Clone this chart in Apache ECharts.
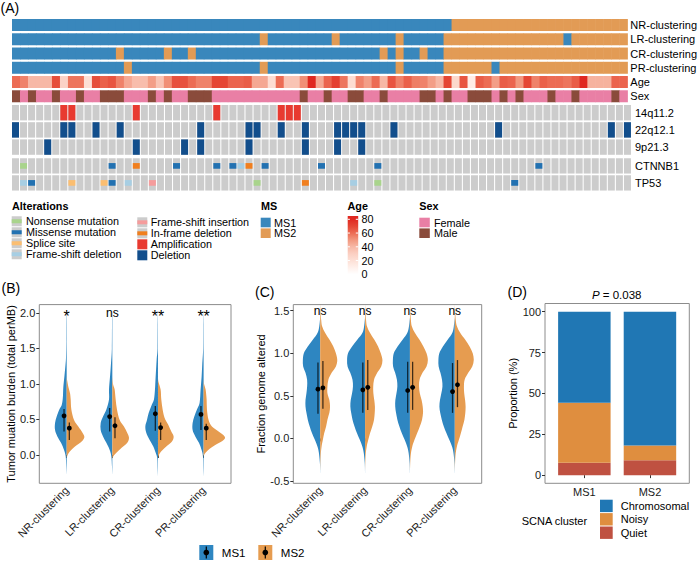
<!DOCTYPE html>
<html>
<head>
<meta charset="utf-8">
<script src="https://cdn.jsdelivr.net/npm/echarts@6.0.0/dist/echarts.min.js"></script>
<style>
html,body{margin:0;padding:0;background:#ffffff;}
#chart{width:700px;height:567px;}
</style>
</head>
<body>
<div id="chart"></div>
<script>
// ================= DATA =================
const samples = [];
for (let i = 1; i <= 77; i++) samples.push('P' + i);

const annoRows = ['NR-clustering', 'LR-clustering', 'CR-clustering', 'PR-clustering', 'Age', 'Sex'];
const msNR = [1,1,1,1,1,1,1,1,1,1, 1,1,1,1,1,1,1,1,1,1, 1,1,1,1,1,1,1,1,1,1, 1,1,1,1,1,1,1,1,1,1, 1,1,1,1,1,1,1,1,1,1, 1,1,1,1,1,2,2,2,2,2, 2,2,2,2,2,2,2,2,2,2, 2,2,2,2,2,2,2];
const msLR = [1,1,1,1,1,1,1,1,1,1, 1,1,1,1,1,1,1,1,1,1, 1,1,1,1,1,1,1,1,1,1, 1,2,1,1,1,1,1,1,1,1, 2,1,1,1,1,1,1,1,2,1, 1,1,1,1,2,2,2,2,2,2, 2,2,2,2,2,2,2,2,2,1, 2,2,2,2,2,2,2];
const msCR = [1,1,1,1,1,1,1,1,1,1, 1,1,1,2,1,1,1,1,1,2, 1,1,2,1,1,1,1,1,1,1, 1,1,1,1,1,1,1,1,1,1, 1,1,1,1,1,1,2,1,2,1, 1,2,1,1,2,2,2,2,2,2, 2,2,2,2,2,2,2,2,2,2, 2,2,2,2,2,2,2];
const msPR = [1,1,1,1,1,1,1,1,1,1, 1,1,1,1,2,1,1,1,1,1, 1,1,1,1,1,1,1,1,1,1, 1,2,1,1,1,1,1,1,1,1, 1,1,1,1,1,1,1,1,2,1, 1,1,1,1,2,2,2,2,2,2, 1,2,2,2,2,2,2,2,2,2, 2,2,2,2,2,2,2];
const ageValues = [60,55,40,40,40,68,28,58,58,20, 68,63,66,55,45,38,38,48,35,52, 67,67,60,55,55,70,70,62,62,64, 45,45,22,60,35,35,52,80,45,62, 72,58,22,55,48,60,40,66,55,63, 56,55,48,40,70,25,66,12,64,60, 48,64,62,50,70,55,63,60,60,58, 64,80,42,42,42,62,62];
const sexValues = ['M','F','M','F','F','M','F','F','M','F', 'F','M','M','M','F','F','F','M','F','M', 'F','F','M','M','M','F','F','F','F','F', 'F','F','F','F','F','F','M','F','F','M', 'F','F','M','M','F','F','M','F','F','F', 'F','M','M','F','M','F','F','M','M','M', 'F','M','F','M','F','F','F','M','F','F', 'M','F','F','F','F','M','F'];

const cnvRows = ['14q11.2', '22q12.1', '9p21.3'];
const amp14q11 = [6,7,15,25,33,34,35];
const del22q12 = [0,6,7,10,13,23,29,30,33,36,40,41,42,43,47,60,74,76];
const del9p21 = [4,15,21,23,29,36,40,43];

const mutRows = ['CTNNB1', 'TP53'];
const mutCTNNB1 = [[1,'Nonsense mutation'],[12,'Missense mutation'],[15,'In-frame deletion'],[20,'Missense mutation'],[25,'Missense mutation'],[27,'Missense mutation'],[28,'Frame-shift deletion'],[29,'In-frame deletion'],[31,'Missense mutation'],[38,'Missense mutation'],[45,'Missense mutation'],[65,'Missense mutation']];
const mutTP53 = [[1,'Frame-shift deletion'],[2,'Missense mutation'],[7,'Splice site'],[11,'Splice site'],[12,'Missense mutation'],[14,'Frame-shift deletion'],[17,'Frame-shift insertion'],[30,'Nonsense mutation'],[36,'In-frame deletion'],[42,'Frame-shift deletion'],[45,'Nonsense mutation'],[62,'Missense mutation']];

const alterTypes = ['Nonsense mutation','Missense mutation','Splice site','Frame-shift deletion','Frame-shift insertion','In-frame deletion','Amplification','Deletion'];
const msLevels = ['MS1', 'MS2'];
const sexLevels = ['Female', 'Male'];
const ageTicks = [0, 20, 40, 60, 80];

// Panel B: tumor mutation burden, split violins ([value, half-width as fraction of category spacing])
const clusterCats = ['NR-clustering', 'LR-clustering', 'CR-clustering', 'PR-clustering'];
const tmbMS1_NR = [[2.05,0],[1.9,0.007],[1.6,0.008],[1.37,0.015],[1.25,0.029],[1.1,0.051],[0.96,0.073],[0.85,0.08],[0.78,0.088],[0.7,0.11],[0.64,0.161],[0.54,0.219],[0.45,0.255],[0.35,0.255],[0.26,0.204],[0.17,0.124],[0.07,0.058],[-0.02,0.022],[-0.15,0.01],[-0.28,0]];
const tmbMS1_LR = [[2.05,0],[1.85,0.007],[1.5,0.01],[1.29,0.029],[1.1,0.051],[0.92,0.073],[0.78,0.073],[0.64,0.131],[0.54,0.204],[0.45,0.255],[0.35,0.255],[0.26,0.204],[0.17,0.131],[0.07,0.058],[-0.02,0.022],[-0.16,0.008],[-0.28,0]];
const tmbMS1_CR = [[2.05,0],[1.8,0.007],[1.5,0.01],[1.34,0.029],[1.1,0.051],[0.92,0.066],[0.78,0.088],[0.69,0.146],[0.59,0.204],[0.49,0.241],[0.40,0.277],[0.31,0.255],[0.21,0.182],[0.12,0.102],[0.02,0.044],[-0.05,0.015],[-0.2,0.007],[-0.3,0]];
const tmbMS1_PR = [[2.05,0],[1.8,0.007],[1.5,0.01],[1.29,0.029],[1.1,0.044],[0.92,0.066],[0.73,0.088],[0.64,0.146],[0.54,0.204],[0.45,0.241],[0.35,0.241],[0.26,0.182],[0.17,0.102],[0.07,0.044],[-0.02,0.015],[-0.2,0.007],[-0.3,0]];
const tmbMS2_NR = [[1.12,0],[1.05,0.01],[0.96,0.036],[0.87,0.073],[0.78,0.088],[0.64,0.102],[0.49,0.161],[0.40,0.255],[0.31,0.35],[0.25,0.387],[0.19,0.328],[0.12,0.182],[0.05,0.073],[0.0,0.022],[-0.04,0]];
const tmbMS2_LR = [[1.1,0],[1.0,0.015],[0.92,0.051],[0.78,0.073],[0.64,0.102],[0.49,0.161],[0.40,0.255],[0.31,0.328],[0.24,0.365],[0.17,0.328],[0.10,0.204],[0.02,0.073],[-0.02,0.022],[-0.06,0]];
const tmbMS2_CR = [[1.1,0],[1.03,0.01],[0.92,0.058],[0.78,0.073],[0.64,0.102],[0.52,0.146],[0.43,0.219],[0.33,0.292],[0.26,0.343],[0.19,0.307],[0.12,0.182],[0.05,0.073],[0.0,0.022],[-0.04,0]];
const tmbMS2_PR = [[1.08,0],[1.0,0.01],[0.92,0.044],[0.78,0.066],[0.64,0.073],[0.49,0.109],[0.40,0.182],[0.33,0.328],[0.26,0.46],[0.21,0.438],[0.14,0.255],[0.07,0.102],[0.02,0.029],[-0.02,0]];
const tmbMS1Range = [[0.55,0.33,0.645],[0.54,0.33,0.66],[0.58,0.34,0.69],[0.57,0.35,0.69]]; // [mean, low, high]
const tmbMS2Range = [[0.377,0.21,0.456],[0.41,0.235,0.53],[0.385,0.21,0.456],[0.377,0.21,0.44]];
const tmbSig = ['*', 'ns', '**', '**'];
const tmbTicks = [0, 0.5, 1, 1.5, 2];

// Panel C: fraction genome altered
const fgaMS1_NR = [[1.42,0],[1.315,0.022],[1.24,0.058],[1.16,0.161],[1.08,0.277],[1.0,0.365],[0.92,0.387],[0.845,0.38],[0.77,0.328],[0.69,0.292],[0.61,0.292],[0.53,0.307],[0.45,0.328],[0.374,0.328],[0.30,0.307],[0.22,0.277],[0.14,0.234],[0.06,0.182],[-0.02,0.117],[-0.1,0.058],[-0.17,0.029],[-0.29,0.007],[-0.41,0]];
const fgaMS1_LR = [[1.42,0],[1.315,0.022],[1.24,0.058],[1.16,0.17],[1.08,0.29],[1.0,0.38],[0.92,0.401],[0.845,0.39],[0.77,0.33],[0.69,0.28],[0.61,0.27],[0.53,0.29],[0.45,0.32],[0.374,0.328],[0.30,0.31],[0.22,0.28],[0.14,0.235],[0.06,0.18],[-0.02,0.115],[-0.1,0.058],[-0.17,0.029],[-0.29,0.007],[-0.41,0]];
const fgaMS1_CR = [[1.42,0],[1.315,0.022],[1.24,0.058],[1.16,0.16],[1.08,0.275],[1.0,0.36],[0.92,0.38],[0.845,0.375],[0.77,0.33],[0.69,0.29],[0.61,0.28],[0.53,0.3],[0.45,0.325],[0.374,0.328],[0.30,0.31],[0.22,0.28],[0.14,0.235],[0.06,0.18],[-0.02,0.115],[-0.1,0.058],[-0.17,0.029],[-0.29,0.007],[-0.41,0]];
const fgaMS1_PR = [[1.42,0],[1.315,0.022],[1.24,0.055],[1.16,0.155],[1.08,0.265],[1.0,0.345],[0.92,0.365],[0.845,0.36],[0.77,0.32],[0.69,0.285],[0.61,0.275],[0.53,0.3],[0.45,0.33],[0.374,0.343],[0.30,0.325],[0.22,0.29],[0.14,0.245],[0.06,0.185],[-0.02,0.12],[-0.1,0.058],[-0.17,0.029],[-0.29,0.007],[-0.41,0]];
const fgaMS2_NR = [[1.58,0],[1.39,0.022],[1.315,0.044],[1.24,0.109],[1.16,0.204],[1.08,0.292],[1.0,0.35],[0.92,0.38],[0.845,0.35],[0.77,0.255],[0.69,0.182],[0.61,0.161],[0.53,0.161],[0.45,0.204],[0.374,0.219],[0.30,0.204],[0.22,0.161],[0.14,0.131],[0.06,0.088],[-0.02,0.058],[-0.1,0.029],[-0.21,0.011],[-0.41,0]];
const fgaMS2_LR = [[1.58,0],[1.39,0.022],[1.315,0.044],[1.24,0.109],[1.16,0.204],[1.08,0.29],[1.0,0.35],[0.92,0.387],[0.845,0.36],[0.77,0.27],[0.69,0.2],[0.61,0.182],[0.53,0.185],[0.45,0.205],[0.374,0.219],[0.30,0.215],[0.22,0.2],[0.14,0.16],[0.06,0.11],[-0.02,0.07],[-0.1,0.035],[-0.21,0.011],[-0.41,0]];
const fgaMS2_CR = [[1.58,0],[1.39,0.022],[1.315,0.044],[1.24,0.11],[1.16,0.21],[1.08,0.3],[1.0,0.37],[0.92,0.40],[0.845,0.37],[0.77,0.28],[0.69,0.215],[0.61,0.204],[0.53,0.22],[0.45,0.26],[0.374,0.285],[0.30,0.292],[0.22,0.27],[0.14,0.22],[0.06,0.16],[-0.02,0.1],[-0.1,0.05],[-0.21,0.015],[-0.41,0]];
const fgaMS2_PR = [[1.58,0],[1.39,0.022],[1.315,0.05],[1.24,0.12],[1.16,0.23],[1.08,0.33],[1.0,0.4],[0.92,0.423],[0.845,0.39],[0.77,0.3],[0.69,0.22],[0.61,0.204],[0.53,0.21],[0.45,0.23],[0.374,0.241],[0.30,0.235],[0.22,0.215],[0.14,0.175],[0.06,0.135],[-0.02,0.09],[-0.1,0.045],[-0.21,0.014],[-0.41,0]];
const fgaMS1Range = [[0.578,0.29,0.89],[0.57,0.30,0.89],[0.563,0.30,0.90],[0.55,0.30,0.885]];
const fgaMS2Range = [[0.594,0.347,0.91],[0.60,0.335,0.92],[0.60,0.335,0.90],[0.63,0.367,0.92]];
const fgaSig = ['ns', 'ns', 'ns', 'ns'];
const fgaTicks = [-0.5, 0, 0.5, 1, 1.5];

// Panel D: SCNA cluster proportions
const scnaGroups = ['MS1', 'MS2'];
const scnaQuiet = [7.5, 9.1];
const scnaNoisy = [36.8, 9.1];
const scnaChromosomal = [55.7, 81.8];
const scnaTicks = [0, 25, 50, 75, 100];
const scnaP = '0.038';

// ================= STYLE =================
const FONT = '"Liberation Sans", Arial, Helvetica, sans-serif';
const GRAY = '#cccccc';
const MS_COLORS = ['#3987bc', '#e29b55'];
const VIOLIN_COLORS = ['#2e86c1', '#e69c50'];
const SEX_COLORS = ['#e97fa5', '#8a4b3b'];
const ALTER_COLORS = ['#a9d48c', '#2271b1', '#fbbe71', '#a7cee3', '#f59c9c', '#f07f1f', '#e83a30', '#124e8c'];
const AGE_COLORS = ['#ffffff', '#fff0eb', '#fde0d6', '#fbcfc2', '#f7b8a6', '#f2987f', '#ec6c54', '#e54634', '#e02820'];
const SCNA_COLORS = { Chromosomal: '#2077b4', Noisy: '#df8e3f', Quiet: '#bf5141' };
const TXT = '#1a1a1a';
const BORDER = '#8c8c8c';

// ================= BUILD SERIES DATA =================
const msRowsData = [];
[msNR, msLR, msCR, msPR].forEach((arr, r) => arr.forEach((v, c) => msRowsData.push([c, r, v - 1])));
const ageData = ageValues.map((v, c) => [c, 4, v]);
const sexData = sexValues.map((v, c) => [c, 5, v === 'F' ? 0 : 1]);
const cnvData = [];
samples.forEach((s, c) => {
  cnvData.push([c, 0, amp14q11.includes(c) ? alterTypes.indexOf('Amplification') : -1]);
  cnvData.push([c, 1, del22q12.includes(c) ? alterTypes.indexOf('Deletion') : -1]);
  cnvData.push([c, 2, del9p21.includes(c) ? alterTypes.indexOf('Deletion') : -1]);
});
const mutData = [];
[mutCTNNB1, mutTP53].forEach((list, r) => {
  samples.forEach((s, c) => {
    const hit = list.find(m => m[0] === c);
    mutData.push([c, r, hit ? alterTypes.indexOf(hit[1]) : -1]);
  });
});

// ================= RENDERERS =================
function annoCell(colorOf, hFrac) {
  return function (params, api) {
    const p = api.coord([api.value(0), api.value(1)]);
    const bw = api.size([1, 0])[0];
    const bh = api.size([0, 1])[1];
    const h = bh * hFrac;
    return { type: 'rect', shape: { x: p[0] - bw / 2, y: p[1] - h / 2, width: bw + 0.5, height: h },
      style: { fill: colorOf(api) } };
  };
}
function gridCell(hFrac, markFrac) {
  return function (params, api) {
    const p = api.coord([api.value(0), api.value(1)]);
    const bw = api.size([1, 0])[0];
    const bh = api.size([0, 1])[1];
    const h = bh * hFrac, w = bw - 1.05;
    const x = p[0] - bw / 2, y = p[1] - h / 2;
    const t = api.value(2);
    const children = [{ type: 'rect', shape: { x, y, width: w, height: h }, style: { fill: GRAY } }];
    if (t >= 0) {
      if (markFrac >= 1) {
        children.push({ type: 'rect', shape: { x, y, width: w, height: h }, style: { fill: ALTER_COLORS[t] } });
      } else {
        const mh = h * markFrac;
        children.push({ type: 'rect', shape: { x, y: p[1] - mh / 2, width: w, height: mh }, style: { fill: ALTER_COLORS[t] } });
      }
    }
    return { type: 'group', children };
  };
}
function smoothPath(pts) {
  let d = 'M' + pts[0][0].toFixed(2) + ' ' + pts[0][1].toFixed(2);
  for (let i = 0; i < pts.length - 1; i++) {
    const p0 = pts[i - 1] || pts[i], p1 = pts[i], p2 = pts[i + 1], p3 = pts[i + 2] || pts[i + 1];
    const c1x = p1[0] + (p2[0] - p0[0]) / 6, c1y = p1[1] + (p2[1] - p0[1]) / 6;
    const c2x = p2[0] - (p3[0] - p1[0]) / 6, c2y = p2[1] - (p3[1] - p1[1]) / 6;
    d += ' C' + c1x.toFixed(2) + ' ' + c1y.toFixed(2) + ' ' + c2x.toFixed(2) + ' ' + c2y.toFixed(2) + ' ' + p2[0].toFixed(2) + ' ' + p2[1].toFixed(2);
  }
  return d + ' Z';
}
function violinRenderer(shapes, side, color) {
  return function (params, api) {
    const prof = shapes[params.dataIndex];
    const cx = api.value(0);
    const unit = api.size([1, 0])[0];
    const pts = prof.map(function (pw) {
      const p = api.coord([cx, pw[0]]);
      return [p[0] + side * pw[1] * unit, p[1]];
    });
    return { type: 'path', shape: { pathData: smoothPath(pts) }, style: { fill: color } };
  };
}
function rangeRenderer(offset) {
  return function (params, api) {
    const x = api.value(0) + offset;
    const m = api.coord([x, api.value(1)]);
    const a = api.coord([x, api.value(2)]);
    const b = api.coord([x, api.value(3)]);
    return { type: 'group', children: [
      { type: 'line', shape: { x1: a[0], y1: a[1], x2: b[0], y2: b[1] }, style: { stroke: 'rgba(0,0,0,0.72)', lineWidth: 1.3 } },
      { type: 'circle', shape: { cx: m[0], cy: m[1], r: 2.4 }, style: { fill: '#000' } }
    ] };
  };
}
function sigRenderer(labels) {
  return function (params, api) {
    const p = api.coord([api.value(0), api.value(1)]);
    const lab = labels[params.dataIndex];
    const star = lab.indexOf('*') >= 0;
    const fs = star ? 16 : 12;
    return { type: 'text', x: p[0], y: p[1] + (star ? 3.5 : 0),
      style: { text: lab, fill: '#000', font: fs + 'px ' + FONT, align: 'center', verticalAlign: 'middle', textAlign: 'center', textVerticalAlign: 'middle' } };
  };
}
function stackRenderer(color) {
  return function (params, api) {
    const x = api.value(0);
    const p0 = api.coord([x, api.value(1)]);
    const p1 = api.coord([x, api.value(2)]);
    const w = api.size([0.8, 0])[0];
    return { type: 'rect', shape: { x: p0[0] - w / 2, y: p1[1], width: w, height: p0[1] - p1[1] }, style: { fill: color } };
  };
}

// stacked bars: [position, base, top]
const stackQuiet = scnaGroups.map((g, i) => [i + 1, 0, scnaQuiet[i]]);
const stackNoisy = scnaGroups.map((g, i) => [i + 1, scnaQuiet[i], scnaQuiet[i] + scnaNoisy[i]]);
const stackChrom = scnaGroups.map((g, i) => [i + 1, scnaQuiet[i] + scnaNoisy[i], scnaQuiet[i] + scnaNoisy[i] + scnaChromosomal[i]]);

// ================= AXES =================
const hiddenX = (gi) => ({ gridIndex: gi, type: 'category', data: samples, show: false });
const rowY = (gi, rows) => ({ gridIndex: gi, type: 'category', data: rows, inverse: true, position: 'right',
  axisLine: { show: false }, axisTick: { show: false }, splitLine: { show: false },
  axisLabel: { interval: 0, fontSize: 11, color: '#000', margin: 3, fontFamily: FONT, hideOverlap: false } });
const tickStyle = { show: true, length: 3, lineStyle: { color: '#333', width: 1 } };
function catX(gi, min, max, cats, rotate, margin) {
  const vals = cats.map((c, i) => i + 1);
  return { gridIndex: gi, type: 'value', min, max, splitLine: { show: false }, axisLine: { show: false },
    axisTick: Object.assign({ customValues: vals }, tickStyle),
    axisLabel: { customValues: vals, formatter: v => cats[Math.round(v) - 1], rotate, fontSize: 11, color: TXT, margin, fontFamily: FONT } };
}
function valY(gi, min, max, ticks, digits, name, gap) {
  return { gridIndex: gi, type: 'value', min, max, splitLine: { show: false }, axisLine: { show: false },
    axisTick: Object.assign({ customValues: ticks }, tickStyle),
    axisLabel: { customValues: ticks, formatter: v => Number(v).toFixed(digits), fontSize: 11, color: TXT, margin: 4, fontFamily: FONT },
    name, nameLocation: 'middle', nameGap: gap, nameTextStyle: { fontSize: 11, color: '#000', fontFamily: FONT } };
}

// ================= GRAPHIC (legends, panel labels) =================
function txt(x, y, text, size, weight, align, extra) {
  return { type: 'text', x, y, silent: true,
    style: Object.assign({ text, fill: '#000', font: (weight || 'normal') + ' ' + (size || 11) + 'px ' + FONT,
      align: align || 'left', verticalAlign: 'middle', textAlign: align || 'left', textVerticalAlign: 'middle' }, extra || {}) };
}
const graphics = [];
graphics.push(txt(0.5, 8, '(A)', 14));
graphics.push(txt(1.5, 288, '(B)', 14));
graphics.push(txt(255, 291.5, '(C)', 14));
graphics.push(txt(507.5, 292, '(D)', 14));

// Alterations legend
graphics.push(txt(12, 205.7, 'Alterations', 10.8, 'bold'));
const altRowY = [221.3, 232.3, 243.3, 254.3];
alterTypes.forEach((name, i) => {
  const col = i < 4 ? 0 : 1, row = i % 4;
  const kx = col === 0 ? 11.7 : 137.3, tx = col === 0 ? 26 : 150.7;
  const cy = altRowY[row] + (col === 1 ? 1 : 0);
  const full = name === 'Amplification' || name === 'Deletion';
  graphics.push({ type: 'rect', silent: true, shape: { x: kx, y: cy - 5, width: 10, height: 10 }, style: { fill: full ? ALTER_COLORS[i] : GRAY } });
  if (!full) graphics.push({ type: 'rect', silent: true, shape: { x: kx, y: cy - 2, width: 10, height: 4 }, style: { fill: ALTER_COLORS[i] } });
  graphics.push(txt(tx, cy, name, 10.8));
});
// MS legend
graphics.push(txt(261, 205.7, 'MS', 10.8, 'bold'));
msLevels.forEach((name, i) => {
  graphics.push({ type: 'rect', silent: true, shape: { x: 260.7, y: 217.7 + i * 10.7, width: 10, height: 9.6 }, style: { fill: MS_COLORS[i] } });
  graphics.push(txt(274, 222.5 + i * 10.9, name, 10.8));
});
// Age legend
graphics.push(txt(347.5, 205.7, 'Age', 10.8, 'bold'));
const ageTop = 219.3, ageBottom = 274.3;
graphics.push({ type: 'rect', silent: true, shape: { x: 347.7, y: 216, width: 10.5, height: 61.5 },
  style: { fill: { type: 'linear', x: 0, y: 0, x2: 0, y2: 1,
    colorStops: AGE_COLORS.slice().reverse().map((c, i, a) => ({ offset: (3.3 + (55 * i) / (a.length - 1)) / 61.5, color: c })) } } });
ageTicks.forEach(v => {
  const y = ageBottom - (v / 80) * (ageBottom - ageTop);
  graphics.push({ type: 'line', silent: true, shape: { x1: 355.8, y1: y, x2: 358.2, y2: y }, style: { stroke: '#ffffff', lineWidth: 1 } });
  graphics.push({ type: 'line', silent: true, shape: { x1: 347.7, y1: y, x2: 349.9, y2: y }, style: { stroke: '#ffffff', lineWidth: 1 } });
  graphics.push(txt(361.5, y, String(v), 10.8));
});
// Sex legend
graphics.push(txt(419.3, 205.7, 'Sex', 10.8, 'bold'));
sexLevels.forEach((name, i) => {
  graphics.push({ type: 'rect', silent: true, shape: { x: 419.3, y: 217.7 + i * 10.7, width: 10.5, height: 9.6 }, style: { fill: SEX_COLORS[i] } });
  graphics.push(txt(434, 222.5 + i * 10.9, name, 10.8));
});
// Bottom legend (B & C)
[199.3, 258.3].forEach((x, i) => {
  graphics.push({ type: 'rect', silent: true, shape: { x, y: 545, width: 14, height: 15 }, style: { fill: VIOLIN_COLORS[i] } });
  graphics.push({ type: 'line', silent: true, shape: { x1: x + 7, y1: 546.5, x2: x + 7, y2: 558.5 }, style: { stroke: '#000', lineWidth: 1.2 } });
  graphics.push({ type: 'circle', silent: true, shape: { cx: x + 7, cy: 552.5, r: 2.8 }, style: { fill: '#000' } });
  graphics.push(txt(x + 22.5, 553, msLevels[i], 11.5));
});
// Panel D text
graphics.push(txt(616.7, 294.5, '{i|P} = ' + scnaP, 11.5, 'normal', 'center', { rich: { i: { fontStyle: 'italic', fontSize: 11.5, fontFamily: FONT } } }));
graphics.push(txt(521.7, 520.7, 'SCNA cluster', 11));

// ================= OPTION =================
const option = {
  animation: false,
  backgroundColor: '#ffffff',
  textStyle: { fontFamily: FONT },
  grid: [
    { left: 12, top: 17.9, width: 620, height: 85.5 },
    { left: 12, top: 104.1, width: 620, height: 51.6 },
    { left: 12, top: 157.4, width: 620, height: 34 },
    { left: 39.3, top: 304.6, width: 191.7, height: 178.7, show: true, borderColor: BORDER, borderWidth: 1, backgroundColor: 'transparent' },
    { left: 293.3, top: 304.6, width: 188.4, height: 178.7, show: true, borderColor: BORDER, borderWidth: 1, backgroundColor: 'transparent' },
    { left: 545, top: 303.5, width: 144.3, height: 179.8, show: true, borderColor: BORDER, borderWidth: 1, backgroundColor: 'transparent' }
  ],
  xAxis: [
    hiddenX(0), hiddenX(1), hiddenX(2),
    catX(3, 0.4, 4.6, clusterCats, 45, 5),
    catX(4, 0.4, 4.6, clusterCats, 45, 5),
    catX(5, 0.4, 2.6, scnaGroups, 0, 3)
  ],
  yAxis: [
    rowY(0, annoRows), rowY(1, cnvRows), rowY(2, mutRows),
    valY(3, -0.4, 2.117, tmbTicks, 1, 'Tumor muation burden (total perMB)', 22),
    valY(4, -0.527, 1.571, fgaTicks, 1, 'Fraction genome altered', 22),
    valY(5, -5, 105, scnaTicks, 0, 'Proportion (%)', 20)
  ],
  visualMap: [{ type: 'continuous', show: false, min: 0, max: 80, dimension: 2, seriesIndex: 1, inRange: { color: AGE_COLORS } }],
  legend: {
    data: ['Chromosomal', 'Noisy', 'Quiet'], orient: 'vertical', left: 600, top: 499.7, padding: 0,
    itemWidth: 12.7, itemHeight: 12.4, itemGap: 1, icon: 'rect', selectedMode: false,
    textStyle: { fontSize: 11, color: '#000', fontFamily: FONT, padding: [0, 0, 0, 3] }
  },
  graphic: { elements: graphics },
  series: [
    { type: 'custom', name: 'MS annotation', xAxisIndex: 0, yAxisIndex: 0, data: msRowsData, encode: { x: 0, y: 1 },
      renderItem: annoCell(api => MS_COLORS[api.value(2)], 0.842) },
    { type: 'custom', name: 'Age', xAxisIndex: 0, yAxisIndex: 0, data: ageData, encode: { x: 0, y: 1 },
      renderItem: annoCell(api => api.visual('color'), 0.842) },
    { type: 'custom', name: 'Sex', xAxisIndex: 0, yAxisIndex: 0, data: sexData, encode: { x: 0, y: 1 },
      renderItem: annoCell(api => SEX_COLORS[api.value(2)], 0.842) },
    { type: 'custom', name: 'SCNA', xAxisIndex: 1, yAxisIndex: 1, data: cnvData, encode: { x: 0, y: 1 },
      renderItem: gridCell(0.895, 1) },
    { type: 'custom', name: 'Mutations', xAxisIndex: 2, yAxisIndex: 2, data: mutData, encode: { x: 0, y: 1 },
      renderItem: gridCell(0.9, 0.37) },
    { type: 'custom', name: 'TMB MS1', xAxisIndex: 3, yAxisIndex: 3, clip: true, data: clusterCats.map((c, i) => [i + 1, 0]), encode: { x: 0, y: 1 },
      renderItem: violinRenderer([tmbMS1_NR, tmbMS1_LR, tmbMS1_CR, tmbMS1_PR], -1, VIOLIN_COLORS[0]) },
    { type: 'custom', name: 'TMB MS2', xAxisIndex: 3, yAxisIndex: 3, clip: true, data: clusterCats.map((c, i) => [i + 1, 0]), encode: { x: 0, y: 1 },
      renderItem: violinRenderer([tmbMS2_NR, tmbMS2_LR, tmbMS2_CR, tmbMS2_PR], 1, VIOLIN_COLORS[1]) },
    { type: 'custom', name: 'FGA MS1', xAxisIndex: 4, yAxisIndex: 4, clip: true, data: clusterCats.map((c, i) => [i + 1, 0]), encode: { x: 0, y: 1 },
      renderItem: violinRenderer([fgaMS1_NR, fgaMS1_LR, fgaMS1_CR, fgaMS1_PR], -1, VIOLIN_COLORS[0]) },
    { type: 'custom', name: 'FGA MS2', xAxisIndex: 4, yAxisIndex: 4, clip: true, data: clusterCats.map((c, i) => [i + 1, 0]), encode: { x: 0, y: 1 },
      renderItem: violinRenderer([fgaMS2_NR, fgaMS2_LR, fgaMS2_CR, fgaMS2_PR], 1, VIOLIN_COLORS[1]) },
    { type: 'custom', name: 'TMB MS1 range', xAxisIndex: 3, yAxisIndex: 3, data: tmbMS1Range.map((r, i) => [i + 1].concat(r)), encode: { x: 0, y: [1, 2, 3] },
      renderItem: rangeRenderer(-0.058) },
    { type: 'custom', name: 'TMB MS2 range', xAxisIndex: 3, yAxisIndex: 3, data: tmbMS2Range.map((r, i) => [i + 1].concat(r)), encode: { x: 0, y: [1, 2, 3] },
      renderItem: rangeRenderer(0.058) },
    { type: 'custom', name: 'FGA MS1 range', xAxisIndex: 4, yAxisIndex: 4, data: fgaMS1Range.map((r, i) => [i + 1].concat(r)), encode: { x: 0, y: [1, 2, 3] },
      renderItem: rangeRenderer(-0.05) },
    { type: 'custom', name: 'FGA MS2 range', xAxisIndex: 4, yAxisIndex: 4, data: fgaMS2Range.map((r, i) => [i + 1].concat(r)), encode: { x: 0, y: [1, 2, 3] },
      renderItem: rangeRenderer(0.06) },
    { type: 'custom', name: 'TMB sig', xAxisIndex: 3, yAxisIndex: 3, data: tmbSig.map((s, i) => [i + 1, 2]), encode: { x: 0, y: 1 },
      renderItem: sigRenderer(tmbSig) },
    { type: 'custom', name: 'FGA sig', xAxisIndex: 4, yAxisIndex: 4, data: fgaSig.map((s, i) => [i + 1, 1.5]), encode: { x: 0, y: 1 },
      renderItem: sigRenderer(fgaSig) },
    { type: 'custom', name: 'Quiet', xAxisIndex: 5, yAxisIndex: 5, data: stackQuiet, encode: { x: 0, y: [1, 2] },
      itemStyle: { color: SCNA_COLORS.Quiet }, renderItem: stackRenderer(SCNA_COLORS.Quiet) },
    { type: 'custom', name: 'Noisy', xAxisIndex: 5, yAxisIndex: 5, data: stackNoisy, encode: { x: 0, y: [1, 2] },
      itemStyle: { color: SCNA_COLORS.Noisy }, renderItem: stackRenderer(SCNA_COLORS.Noisy) },
    { type: 'custom', name: 'Chromosomal', xAxisIndex: 5, yAxisIndex: 5, data: stackChrom, encode: { x: 0, y: [1, 2] },
      itemStyle: { color: SCNA_COLORS.Chromosomal }, renderItem: stackRenderer(SCNA_COLORS.Chromosomal) }
  ]
};

const chart = echarts.init(document.getElementById('chart'), null, { renderer: 'svg' });
chart.setOption(option);
</script>
</body>
</html>
